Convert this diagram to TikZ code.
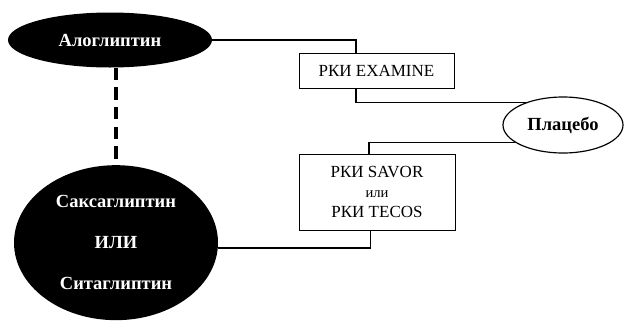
\documentclass[tikz,border=0pt]{standalone}
\usepackage{fontspec}
\setmainfont{Liberation Serif}
\newfontfamily\trialfont{Liberation Serif}
\usetikzlibrary{shapes.geometric,positioning}

\begin{document}
\begin{tikzpicture}[
font=\trialfont\fontsize{14.5pt}{17pt}\selectfont,
drug/.style={ellipse,fill=black,text=white,inner sep=0pt,font=\trialfont\bfseries\fontsize{15.8pt}{19pt}\selectfont},
trial/.style={rectangle,draw,line width=0.8pt,inner sep=0pt,align=center},
control/.style={ellipse,draw,line width=1pt,inner sep=0pt,font=\trialfont\bfseries\fontsize{15.8pt}{19pt}\selectfont},
link/.style={line width=1.1pt},
alt/.style={line width=0.12cm,dash pattern=on 0.37cm off 0.22cm}
]
    % page frame
    \useasboundingbox (0,0) rectangle (18.81,-9.69);

    % drugs
    \node[drug, minimum width=6.12cm, minimum height=1.65cm] (alo) at (3.3,-1.2) {Алоглиптин};
    \node[drug, minimum width=6.12cm, minimum height=4.65cm, align=center,
        font=\trialfont\bfseries\fontsize{15.8pt}{35pt}\selectfont] (saxa) at (3.48,-7.28)
        {Саксаглиптин\\ИЛИ\\Ситаглиптин};

    % trials
    \node[trial, minimum width=4.65cm, minimum height=1.05cm] (examine) at (11.295,-2.115) {РКИ EXAMINE};
    \node[trial, minimum width=4.68cm, minimum height=2.28cm] (savor) at (11.31,-5.76)
        {РКИ SAVOR\\{\fontsize{12.5pt}{17pt}\selectfont или}\\РКИ TECOS};

    % placebo
    \node[control, minimum width=3.6cm, minimum height=1.68cm] (placebo) at (16.89,-3.75) {Плацебо};

    % connectors
    \draw[link] (alo.east) -| ([xshift=-0.615cm]examine.north);
    \draw[link] ([xshift=-0.615cm]examine.south) |- (placebo.148);
    \draw[link] (placebo.200) -| ([xshift=-0.24cm]savor.north);
    \draw[link] ([xshift=-0.195cm]savor.south) |- (saxa.357);
    \draw[alt] (alo.south -| saxa.north) -- (saxa.north);

\end{tikzpicture}
\end{document}
